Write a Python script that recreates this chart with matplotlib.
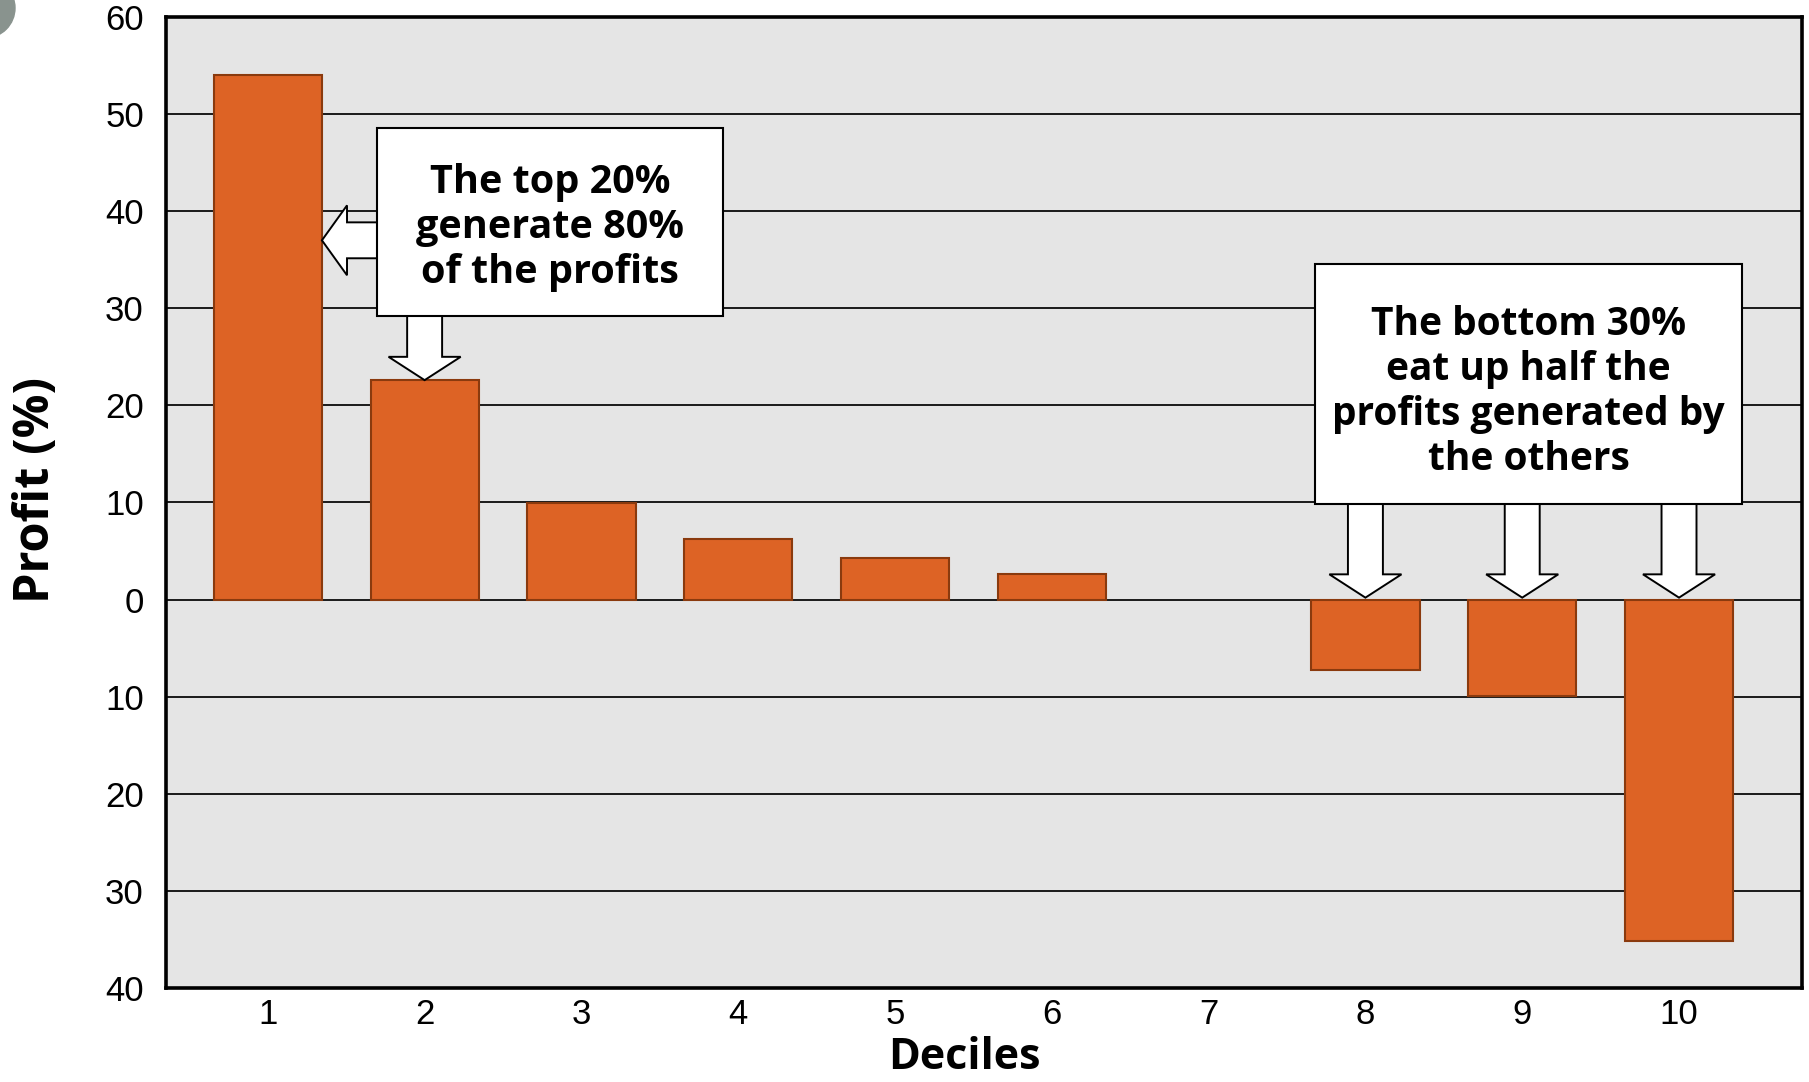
import matplotlib
matplotlib.use("Agg")
import matplotlib.pyplot as plt
import matplotlib.patches as mpatches

# profit share per customer decile
deciles = [1, 2, 3, 4, 5, 6, 7, 8, 9, 10]
profit = [54.0, 22.6, 9.9, 6.2, 4.3, 2.6, 0.0, -7.3, -9.9, -35.2]
y_ticks = [60, 50, 40, 30, 20, 10, 0, -10, -20, -30, -40]
y_tick_labels = [str(abs(v)) for v in y_ticks]

top_note = "The top 20%\ngenerate 80%\nof the profits"
bottom_note = "The bottom 30%\neat up half the\nprofits generated by\nthe others"

BAR_FACE = "#dd6325"
BAR_EDGE = "#8a3a0e"
TICK_FONT = ["Liberation Sans Narrow", "Liberation Sans", "DejaVu Sans"]
BOLD_FONT = ["Open Sans", "DejaVu Sans"]

fig = plt.figure(figsize=(18.09, 10.82), dpi=100)
ax = fig.add_axes([0.0918, 0.0869, 0.9043, 0.8974])
ax.set_facecolor("#e5e5e5")

ax.set_xlim(0.351, 10.784)
ax.set_ylim(-40, 60)
ax.set_yticks(y_ticks)
ax.set_yticklabels(y_tick_labels, family=TICK_FONT, fontsize=25)
ax.set_xticks(deciles)
ax.set_xticklabels([str(d) for d in deciles], family=TICK_FONT, fontsize=25)
ax.tick_params(axis="both", length=0)
ax.tick_params(axis="y", pad=16)
ax.tick_params(axis="x", pad=7)

for v in y_ticks[1:-1]:
    ax.axhline(v, color="#1a1a1a", lw=1.4, zorder=1)

for s in ax.spines.values():
    s.set_linewidth(2.6)
    s.set_color("black")

ax.bar(deciles, profit, width=0.69, color=BAR_FACE, edgecolor=BAR_EDGE,
       linewidth=[0 if v == 0 else 1.5 for v in profit], zorder=2)

ax.set_xlabel("Deciles", family=BOLD_FONT, fontweight="bold", fontsize=31)
ax.xaxis.set_label_coords(0.488, -0.049)
ax.set_ylabel("Profit (%)", family=BOLD_FONT, fontweight="bold", fontsize=35)
ax.yaxis.set_label_coords(-0.064, 0.513)

# callout boxes
arrow_kw = dict(facecolor="white", edgecolor="black", linewidth=1.4,
                joinstyle="miter", length_includes_head=True, zorder=3)

# top 20% box with arrows to bars 1 and 2
ax.add_patch(mpatches.Rectangle((1.697, 29.2), 2.206, 19.4, facecolor="white",
                                edgecolor="black", linewidth=1.5, zorder=4))
ax.text(2.80, 38.3, top_note, ha="center", va="center", family=BOLD_FONT,
        fontweight="bold", fontsize=28.5, linespacing=1.21, zorder=5)
bar1_right = deciles[0] + 0.345
ax.add_patch(mpatches.FancyArrow(1.75, 37.0, bar1_right - 1.75, 0, width=3.7,
                                 head_width=7.2, head_length=0.16, **arrow_kw))
ax.add_patch(mpatches.FancyArrow(deciles[1], 30.0, 0, profit[1] - 30.0,
                                 width=0.223, head_width=0.46, head_length=2.4,
                                 **arrow_kw))

# bottom 30% box with arrows to bars 8-10
ax.add_patch(mpatches.Rectangle((7.679, 9.8), 2.723, 24.8, facecolor="white",
                                edgecolor="black", linewidth=1.5, zorder=4))
ax.text(9.04, 21.4, bottom_note, ha="center", va="center", family=BOLD_FONT,
        fontweight="bold", fontsize=28, linespacing=1.2, zorder=5)
for d in deciles[7:]:
    ax.add_patch(mpatches.FancyArrow(d, 10.5, 0, 0.2 - 10.5, width=0.223,
                                     head_width=0.46, head_length=2.4,
                                     **arrow_kw))

# grey bullet in the corner
fig.patches.append(mpatches.Circle((-0.15, 10.74), 0.3, color="#89938e",
                                   transform=fig.dpi_scale_trans))

fig.savefig("out.png", dpi=100, facecolor="white")
